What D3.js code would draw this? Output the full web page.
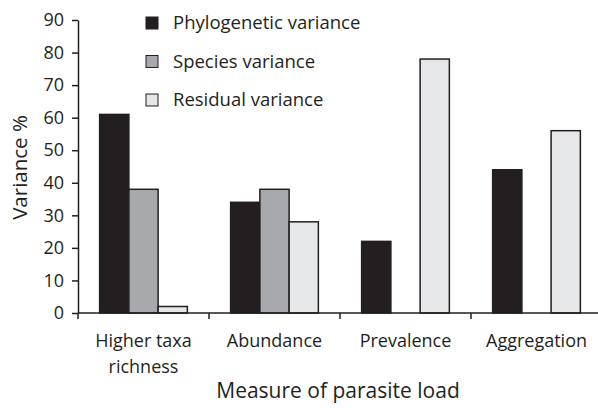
<!DOCTYPE html>
<html>
<head>
<meta charset="utf-8">
<script src="https://cdn.jsdelivr.net/npm/d3@7"></script>
<style>
  body { margin: 0; background: #fff; }
  svg { display: block; font-family: "Open Sans", sans-serif; }
</style>
</head>
<body>
<svg width="598" height="408"></svg>
<script>
// data
const categories = ["Higher taxa richness", "Abundance", "Prevalence", "Aggregation"];
const categoryLines = [["Higher taxa", "richness"], ["Abundance"], ["Prevalence"], ["Aggregation"]];
const seriesNames = ["Phylogenetic variance", "Species variance", "Residual variance"];
const phylogenetic = [61, 34, 22, 44];
const species = [38, 38, 0, 0];
const residual = [2, 28, 78, 56];
const yTicks = [0, 10, 20, 30, 40, 50, 60, 70, 80, 90];
const colors = ["#231f20", "#a7a9ac", "#e6e7e8"];

const series = [phylogenetic, species, residual];

const svg = d3.select("svg");
const margin = { left: 78, top: 20, right: 0, bottom: 95 };
const width = 602;
const height = +svg.attr("height");

const x = d3.scaleBand()
    .domain(categories)
    .range([margin.left, width])
    .paddingInner(0)
    .paddingOuter(0);

const inner = d3.scaleBand()
    .domain(seriesNames)
    .range([0, x.bandwidth()])
    .paddingOuter(0.74)
    .paddingInner(0);

const y = d3.scaleLinear()
    .domain([0, 90])
    .range([height - margin.bottom, margin.top]);

// bars
const rows = [];
categories.forEach((c, i) => {
    seriesNames.forEach((s, j) => {
        if (series[j][i] > 0) rows.push({ cat: c, name: s, value: series[j][i], k: j });
    });
});

svg.append("g")
    .selectAll("rect")
    .data(rows)
    .enter().append("rect")
    .attr("x", d => x(d.cat) + inner(d.name))
    .attr("y", d => y(d.value))
    .attr("width", inner.bandwidth())
    .attr("height", d => y(0) - y(d.value))
    .attr("fill", d => colors[d.k])
    .attr("stroke", "#231f20")
    .attr("stroke-width", 1.5);

// y axis
const yAxis = svg.append("g")
    .attr("transform", `translate(${margin.left},0)`)
    .call(d3.axisLeft(y).tickValues(yTicks).tickSize(6).tickPadding(8).tickSizeOuter(0));
yAxis.select(".domain").attr("stroke", "#231f20").attr("stroke-width", 1.5);
yAxis.selectAll(".tick line").attr("stroke", "#231f20").attr("stroke-width", 1.5);
yAxis.selectAll("text")
    .attr("font-size", 18)
    .attr("font-family", "Open Sans, sans-serif")
    .attr("fill", "#231f20");

// x axis with ticks at band boundaries
const xAxisG = svg.append("g");
xAxisG.append("line")
    .attr("x1", margin.left).attr("x2", width)
    .attr("y1", y(0)).attr("y2", y(0))
    .attr("stroke", "#231f20").attr("stroke-width", 1.5);
xAxisG.selectAll(".xt")
    .data(categories)
    .enter().append("line")
    .attr("x1", d => x(d)).attr("x2", d => x(d))
    .attr("y1", y(0)).attr("y2", y(0) + 6)
    .attr("stroke", "#231f20").attr("stroke-width", 1.5);

const labels = xAxisG.selectAll(".xl")
    .data(categories)
    .enter().append("text")
    .attr("x", d => x(d) + x.bandwidth() / 2)
    .attr("y", y(0) + 34)
    .attr("text-anchor", "middle")
    .attr("font-size", 18)
    .attr("fill", "#231f20");
labels.each(function(d, i) {
    d3.select(this).selectAll("tspan")
        .data(categoryLines[i])
        .enter().append("tspan")
        .attr("x", x(d) + x.bandwidth() / 2)
        .attr("dy", (t, k) => k === 0 ? 0 : 26)
        .text(t => t);
});

// axis titles
svg.append("text")
    .attr("transform", `translate(20,167.5) rotate(-90)`)
    .attr("text-anchor", "middle")
    .attr("dy", "0.35em")
    .attr("font-size", 20.5)
    .attr("fill", "#231f20")
    .text("Variance %");

svg.append("text")
    .attr("x", 338)
    .attr("y", 398)
    .attr("text-anchor", "middle")
    .attr("font-size", 21)
    .attr("fill", "#231f20")
    .text("Measure of parasite load");

// legend
const legend = svg.append("g")
    .selectAll("g")
    .data(seriesNames)
    .enter().append("g")
    .attr("transform", (d, i) => `translate(146,${23 + i * 38.5})`);
legend.append("rect")
    .attr("x", 0).attr("y", -6)
    .attr("width", 12).attr("height", 12)
    .attr("fill", (d, i) => colors[i])
    .attr("stroke", "#231f20")
    .attr("stroke-width", 1);
legend.append("text")
    .attr("x", 27)
    .attr("dy", "0.35em")
    .attr("font-size", 18.5)
    .attr("fill", "#231f20")
    .text(d => d);
</script>
</body>
</html>
